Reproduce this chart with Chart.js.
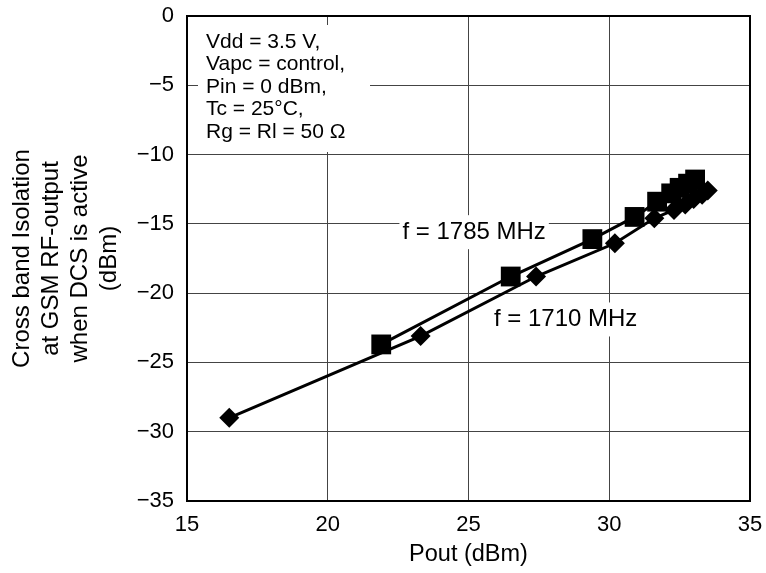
<!DOCTYPE html>
<html>
<head>
<meta charset="utf-8">
<script src="https://cdn.jsdelivr.net/npm/chart.js@4/dist/chart.umd.min.js"></script>
<style>
  html, body { margin: 0; padding: 0; background: #fff; }
  #wrap { width: 766px; height: 573px; }
</style>
</head>
<body>
<div id="wrap"><canvas id="chart" width="766" height="573"></canvas></div>
<script>
// f = 1710 MHz (diamonds)
const pout1710 = [16.5, 23.3, 27.4, 30.2, 31.6, 32.3, 32.7, 33.0, 33.3, 33.5];
const iso1710 = [-29.0, -23.1, -18.8, -16.4, -14.6, -14.0, -13.6, -13.2, -12.9, -12.6];
// f = 1785 MHz (squares)
const pout1785 = [21.9, 26.5, 29.4, 30.9, 31.7, 32.2, 32.5, 32.8, 33.05];
const iso1785 = [-23.7, -18.8, -16.1, -14.5, -13.4, -12.8, -12.4, -12.1, -11.8];

const xTicks = [15, 20, 25, 30, 35];
const yTicks = [0, -5, -10, -15, -20, -25, -30, -35];

const conditions = ['Vdd = 3.5 V,', 'Vapc = control,', 'Pin = 0 dBm,', 'Tc = 25°C,', 'Rg = Rl = 50 Ω'];
const curveLabels = [
  { text: 'f = 1785 MHz', x: 25.2, y: -15.6 },
  { text: 'f = 1710 MHz', x: 28.45, y: -21.9 }
];

const FONT = '"Liberation Sans", Arial, Helvetica, sans-serif';
const toPoints = (xs, ys) => xs.map((x, i) => ({ x, y: ys[i] }));

const notes = {
  id: 'notes',
  beforeDatasetsDraw(chart) {
    const { ctx, chartArea, scales } = chart;
    ctx.save();
    ctx.textBaseline = 'middle';
    ctx.textAlign = 'left';

    // conditions box, top-left
    ctx.font = `21px ${FONT}`;
    ctx.fillStyle = '#fff';
    ctx.fillRect(chartArea.left + 11, chartArea.top + 9, 172, 127);
    ctx.fillStyle = '#000';
    conditions.forEach((line, i) => {
      ctx.fillText(line, chartArea.left + 19, chartArea.top + 26 + i * 22.5);
    });

    // curve labels
    ctx.font = `24px ${FONT}`;
    ctx.textAlign = 'center';
    curveLabels.forEach((lab) => {
      const cx = scales.x.getPixelForValue(lab.x);
      const cy = scales.y.getPixelForValue(lab.y);
      const w = ctx.measureText(lab.text).width + 6;
      ctx.fillStyle = '#fff';
      ctx.fillRect(cx - w / 2, cy - 17, w, 34);
      ctx.fillStyle = '#000';
      ctx.fillText(lab.text, cx, cy);
    });
    ctx.restore();
  },
  afterDraw(chart) {
    const { ctx, chartArea } = chart;
    ctx.save();
    ctx.strokeStyle = '#000';
    ctx.lineWidth = 2;
    ctx.strokeRect(chartArea.left, chartArea.top, chartArea.right - chartArea.left, chartArea.bottom - chartArea.top);
    ctx.restore();
  }
};

new Chart(document.getElementById('chart'), {
  type: 'scatter',
  data: {
    datasets: [
      {
        label: 'f = 1785 MHz',
        data: toPoints(pout1785, iso1785),
        showLine: true,
        borderColor: '#000',
        backgroundColor: '#000',
        borderWidth: 3,
        pointStyle: 'rect',
        pointRadius: 14,
        pointBorderWidth: 0,
        pointBackgroundColor: '#000'
      },
      {
        label: 'f = 1710 MHz',
        data: toPoints(pout1710, iso1710),
        showLine: true,
        borderColor: '#000',
        backgroundColor: '#000',
        borderWidth: 3,
        pointStyle: 'rectRot',
        pointRadius: 10,
        pointBorderWidth: 0,
        pointBackgroundColor: '#000'
      }
    ]
  },
  options: {
    responsive: false,
    animation: false,
    layout: { padding: { top: 16, right: 16, left: 0, bottom: 0 } },
    plugins: {
      legend: { display: false },
      tooltip: { enabled: false }
    },
    scales: {
      x: {
        type: 'linear',
        min: 15,
        max: 35,
        afterBuildTicks: (s) => { s.ticks = xTicks.map((v) => ({ value: v })); },
        afterFit: (s) => { s.height = 72; s.paddingLeft = 0; s.paddingRight = 0; },
        ticks: { color: '#000', padding: 11, font: { family: FONT, size: 22 } },
        grid: { color: '#444', lineWidth: 1, drawTicks: false },
        border: { color: '#000', width: 2 },
        title: {
          display: true,
          text: 'Pout (dBm)',
          color: '#000',
          padding: { top: 0, bottom: 4 },
          font: { family: FONT, size: 23.5 }
        }
      },
      y: {
        type: 'linear',
        min: -35,
        max: 0,
        afterBuildTicks: (s) => { s.ticks = yTicks.map((v) => ({ value: v })); },
        afterFit: (s) => { s.width = 187; s.paddingTop = 0; s.paddingBottom = 0; },
        ticks: {
          color: '#000',
          padding: 13,
          font: { family: FONT, size: 22 },
          callback: (v) => (v < 0 ? '\u2212' + Math.abs(v) : String(v))
        },
        grid: { color: '#444', lineWidth: 1, drawTicks: false },
        border: { color: '#000', width: 2 },
        title: {
          display: true,
          text: ['Cross band Isolation', 'at GSM RF-output', 'when DCS is active', '(dBm)'],
          color: '#000',
          padding: { top: 7.5, bottom: 0 },
          font: { family: FONT, size: 24, lineHeight: 29 / 24 }
        }
      }
    }
  },
  plugins: [notes]
});
</script>
</body>
</html>
